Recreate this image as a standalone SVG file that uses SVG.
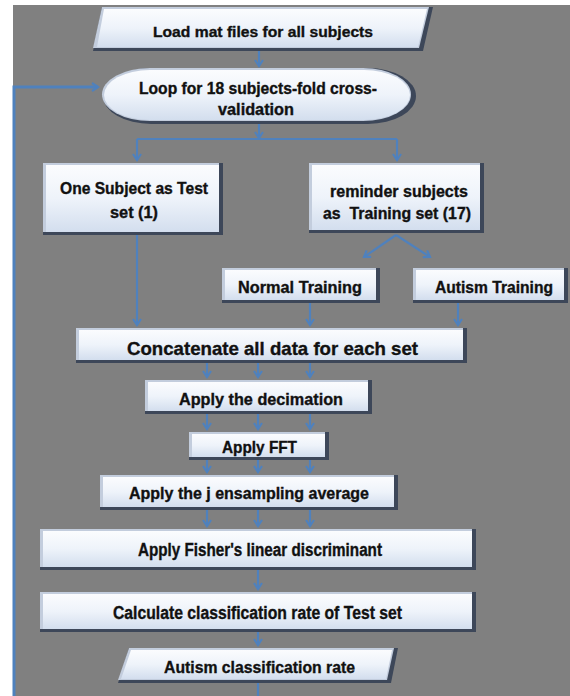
<svg xmlns="http://www.w3.org/2000/svg" width="570" height="696" viewBox="0 0 570 696">
<defs>
<linearGradient id="face" x1="0" y1="0" x2="0" y2="1">
<stop offset="0" stop-color="#fbfcfe"/>
<stop offset="0.5" stop-color="#eef3fa"/>
<stop offset="1" stop-color="#d3deee"/>
</linearGradient>
<marker id="ah" markerUnits="userSpaceOnUse" markerWidth="12" markerHeight="12" refX="7" refY="5" orient="auto">
<path d="M1,1 L7,5 L1,9" fill="none" stroke="#4f81bd" stroke-width="2.2"/>
</marker>
<style>
.bg{fill:#808080}
.dk{fill:#3d4759}
.lt{fill:#c3cddd}
.fc{fill:url(#face)}
.t{font-family:"Liberation Sans",Arial,sans-serif;font-weight:bold;fill:#111;stroke:#111;stroke-width:0.35;text-anchor:start}
.c{fill:none;stroke:#4f81bd;stroke-width:2.2}
.ca{fill:none;stroke:#4f81bd;stroke-width:2.2;marker-end:url(#ah)}
.loop{fill:none;stroke:#4f81bd;stroke-width:3}
</style>
</defs>
<rect x="0" y="0" width="570" height="696" fill="#ffffff"/>
<rect class="bg" x="13" y="5" width="557" height="691"/>

<g id="connectors">
<polyline class="loop" points="14,696 14,87 98,87" marker-end="url(#ah)"/>
<line class="ca" x1="259" y1="51" x2="259" y2="66"/>
<line class="ca" x1="259" y1="123" x2="259" y2="138"/>
<polyline class="c" points="137,139 397,139"/>
<line class="ca" x1="137" y1="139" x2="137" y2="160"/>
<line class="ca" x1="397" y1="139" x2="397" y2="160"/>
<line class="ca" x1="137" y1="235" x2="137" y2="325"/>
<line class="ca" x1="396" y1="235" x2="364" y2="257"/>
<line class="ca" x1="396" y1="235" x2="430" y2="257"/>
<line class="ca" x1="310" y1="303" x2="310" y2="325"/>
<line class="ca" x1="458" y1="303" x2="458" y2="325"/>
<line class="ca" x1="207" y1="363" x2="207" y2="377"/>
<line class="ca" x1="258" y1="363" x2="258" y2="377"/>
<line class="ca" x1="310" y1="363" x2="310" y2="377"/>
<line class="ca" x1="207" y1="414" x2="207" y2="429"/>
<line class="ca" x1="258" y1="414" x2="258" y2="429"/>
<line class="ca" x1="310" y1="414" x2="310" y2="429"/>
<line class="ca" x1="207" y1="460" x2="207" y2="472"/>
<line class="ca" x1="258" y1="460" x2="258" y2="472"/>
<line class="ca" x1="310" y1="460" x2="310" y2="472"/>
<line class="ca" x1="207" y1="510" x2="207" y2="526"/>
<line class="ca" x1="258" y1="510" x2="258" y2="526"/>
<line class="ca" x1="310" y1="510" x2="310" y2="526"/>
<line class="ca" x1="258" y1="570" x2="258" y2="589"/>
<line class="ca" x1="258" y1="632" x2="258" y2="645"/>
<line class="c" x1="258" y1="683" x2="258" y2="696"/>
</g>

<g id="n-load">
<polygon class="dk" points="102,7 433,7 423,51 93,51"/>
<polygon class="lt" points="102,7 429,7 419,48 93,48"/>
<polygon class="fc" points="104,9 427,9 418,47 97,47"/>
<text class="t" x="153" y="37" font-size="15" textLength="220" lengthAdjust="spacingAndGlyphs">Load mat files for all subjects</text>
</g>

<g id="n-loop">
<rect class="dk" x="103" y="68" width="313" height="56" rx="48" ry="28"/>
<rect class="lt" x="102" y="68" width="309" height="53" rx="48" ry="27"/>
<rect class="fc" x="104" y="70" width="306" height="50" rx="46" ry="25"/>
<text class="t" x="139" y="94" font-size="16" textLength="238" lengthAdjust="spacingAndGlyphs">Loop for 18 subjects-fold cross-</text>
<text class="t" x="218" y="115" font-size="16" textLength="76" lengthAdjust="spacingAndGlyphs">validation</text>
</g>

<g id="n-test">
<rect class="dk" x="43" y="163" width="180" height="72"/>
<rect class="lt" x="43" y="163" width="176" height="69"/>
<rect class="fc" x="46" y="165" width="173" height="67"/>
<text class="t" x="60" y="194" font-size="16" textLength="148" lengthAdjust="spacingAndGlyphs">One Subject as Test</text>
<text class="t" x="110" y="218" font-size="16" textLength="48" lengthAdjust="spacingAndGlyphs">set (1)</text>
</g>

<g id="n-train">
<rect class="dk" x="309" y="163" width="175" height="70"/>
<rect class="lt" x="309" y="163" width="171" height="67"/>
<rect class="fc" x="312" y="165" width="168" height="65"/>
<text class="t" x="330" y="197" font-size="16" textLength="138" lengthAdjust="spacingAndGlyphs">reminder subjects</text>
<text class="t" x="323" y="219" font-size="16" textLength="148" lengthAdjust="spacingAndGlyphs" xml:space="preserve">as  Training set (17)</text>
</g>

<g id="n-normal">
<rect class="dk" x="222" y="268" width="158" height="35"/>
<rect class="lt" x="222" y="268" width="154" height="32"/>
<rect class="fc" x="225" y="270" width="151" height="30"/>
<text class="t" x="238" y="293" font-size="16.5" textLength="124" lengthAdjust="spacingAndGlyphs">Normal Training</text>
</g>

<g id="n-autism">
<rect class="dk" x="413" y="268" width="155" height="35"/>
<rect class="lt" x="413" y="268" width="151" height="32"/>
<rect class="fc" x="416" y="270" width="148" height="30"/>
<text class="t" x="435" y="293" font-size="16.5" textLength="118" lengthAdjust="spacingAndGlyphs">Autism Training</text>
</g>

<g id="n-concat">
<rect class="dk" x="76" y="328" width="391" height="35"/>
<rect class="lt" x="76" y="328" width="387" height="32"/>
<rect class="fc" x="79" y="330" width="384" height="30"/>
<text class="t" x="127" y="355" font-size="18.5" textLength="291" lengthAdjust="spacingAndGlyphs">Concatenate all data for each set</text>
</g>

<g id="n-decim">
<rect class="dk" x="145" y="380" width="227" height="34"/>
<rect class="lt" x="145" y="380" width="223" height="31"/>
<rect class="fc" x="148" y="382" width="220" height="29"/>
<text class="t" x="179" y="405" font-size="17" textLength="164" lengthAdjust="spacingAndGlyphs">Apply the decimation</text>
</g>

<g id="n-fft">
<rect class="dk" x="189" y="432" width="140" height="28"/>
<rect class="lt" x="189" y="432" width="136" height="25"/>
<rect class="fc" x="192" y="434" width="133" height="23"/>
<text class="t" x="222" y="453" font-size="17" textLength="75" lengthAdjust="spacingAndGlyphs">Apply FFT</text>
</g>

<g id="n-jens">
<rect class="dk" x="100" y="475" width="298" height="35"/>
<rect class="lt" x="100" y="475" width="294" height="32"/>
<rect class="fc" x="103" y="477" width="291" height="30"/>
<text class="t" x="129" y="499" font-size="16.5" textLength="240" lengthAdjust="spacingAndGlyphs">Apply the j ensampling average</text>
</g>

<g id="n-fisher">
<rect class="dk" x="40" y="529" width="436" height="41"/>
<rect class="lt" x="40" y="529" width="432" height="38"/>
<rect class="fc" x="43" y="531" width="429" height="36"/>
<text class="t" x="138" y="556" font-size="17.5" textLength="244" lengthAdjust="spacingAndGlyphs">Apply Fisher's linear discriminant</text>
</g>

<g id="n-calc">
<rect class="dk" x="40" y="592" width="436" height="40"/>
<rect class="lt" x="40" y="592" width="432" height="37"/>
<rect class="fc" x="43" y="594" width="429" height="35"/>
<text class="t" x="113" y="619" font-size="17.5" textLength="289" lengthAdjust="spacingAndGlyphs">Calculate classification rate of Test set</text>
</g>

<g id="n-rate">
<polygon class="dk" points="129,648 398,648 391,683 118,683"/>
<polygon class="lt" points="129,648 394,648 387,680 118,680"/>
<polygon class="fc" points="131,650 392,650 386,679 121,679"/>
<text class="t" x="164" y="673" font-size="16.5" textLength="191" lengthAdjust="spacingAndGlyphs">Autism classification rate</text>
</g>
</svg>
